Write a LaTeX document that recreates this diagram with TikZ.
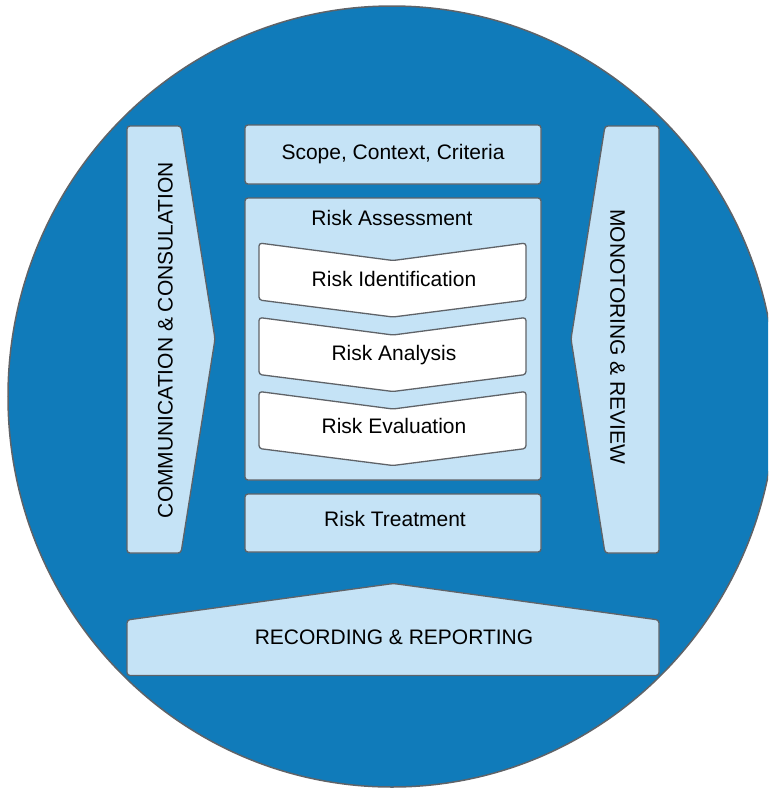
\documentclass[tikz,border=0pt]{standalone}
\usepackage{fontspec}
\setmainfont{Liberation Sans}

\definecolor{discblue}{RGB}{16,123,186}
\definecolor{paleblue}{RGB}{197,227,246}
\definecolor{edgegrey}{RGB}{95,99,104}

\begin{document}
\begin{tikzpicture}[
    x=0.5pt, y=-0.5pt,
    font=\fontsize{10.5}{12.6}\selectfont,
    disc/.style={
        draw=edgegrey,
        fill=discblue,
        line width=0.75pt
    },
    panel/.style={
        draw=edgegrey,
        fill=paleblue,
        line width=0.65pt,
        rounded corners=1.5pt
    },
    chevron/.style={
        draw=edgegrey,
        fill=white,
        line width=0.65pt,
        rounded corners=1.5pt
    },
    lab/.style={
        inner sep=0pt
    }
]

\clip (0,0) rectangle (768,789);

% =========================================================
% Background disc
% =========================================================
\draw[disc] (392,396.5) ellipse [x radius=384, y radius=390.5];

% =========================================================
% Side arrows
% =========================================================
\draw[panel] (127,126) -- (181,126) -- (215,339) -- (181,553)
    -- (127,553) -- cycle;
\node[lab, rotate=90] (comm) at (165.5,340)
    {COMMUNICATION \& CONSULATION};

\draw[panel] (659,126) -- (605,126) -- (571,339) -- (605,553)
    -- (659,553) -- cycle;
\node[lab, rotate=-90] (monitor) at (617.5,337)
    {MONOTORING \& REVIEW};

% =========================================================
% Centre column
% =========================================================
\draw[panel] (245,125) rectangle (541,184);
\node[lab] (scope) at (393,154.5) {Scope, Context, Criteria};

\draw[panel] (245,198) rectangle (541,480);
\node[lab] (assess) at (392,218) {Risk Assessment};

% chevrons: top edge y / text y / name / label
\foreach \ya/\yt/\name/\txt in {
    243/279/ident/Risk Identification,
    317.5/355/analysis/Risk Analysis,
    391.5/426/evaluate/Risk Evaluation}
{
    \draw[chevron] (259,\ya) -- (393,\ya+17.5) -- (526,\ya)
        -- (526,\ya+57) -- (393,\ya+74) -- (259,\ya+57) -- cycle;
    \node[lab] (\name) at (394,\yt) {\txt};
}

\draw[panel] (245,494) rectangle (541,552);
\node[lab] (treat) at (395,519) {Risk Treatment};

% =========================================================
% Bottom arrow
% =========================================================
\draw[panel] (127,620) -- (393.5,583.5) -- (659,620) -- (659,675.5)
    -- (127,675.5) -- cycle;
\node[lab] (record) at (394,637) {RECORDING \& REPORTING};

\end{tikzpicture}
\end{document}
